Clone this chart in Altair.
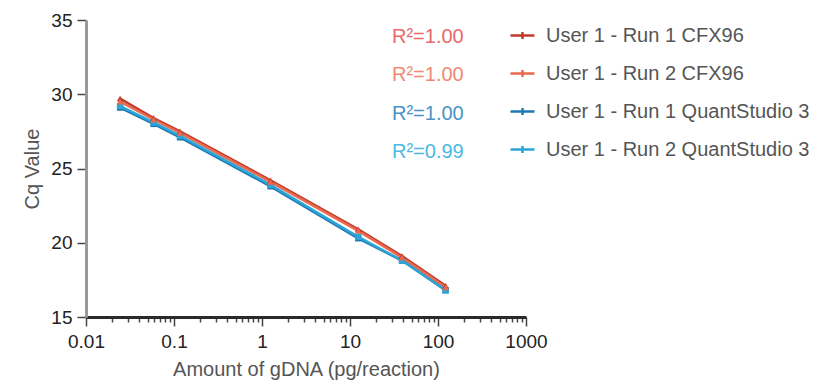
import altair as alt
import pandas as pd

# ---- data ----
amount_pg = [0.0244, 0.0586, 0.117, 1.25, 12.4, 39.0, 122.0]
series_names = [
    "User 1 - Run 1 CFX96",
    "User 1 - Run 2 CFX96",
    "User 1 - Run 1 QuantStudio 3",
    "User 1 - Run 2 QuantStudio 3",
]
cq_run1_cfx96 = [29.7, 28.4, 27.5, 24.2, 20.9, 19.1, 17.1]
cq_run2_cfx96 = [29.5, 28.3, 27.4, 24.1, 20.8, 19.0, 17.0]
cq_run1_qs3 = [29.1, 28.0, 27.1, 23.8, 20.3, 18.8, 16.8]
cq_run2_qs3 = [29.2, 28.1, 27.2, 23.9, 20.4, 18.8, 16.8]
r2_labels = ["R²=1.00", "R²=1.00", "R²=1.00", "R²=0.99"]

# ---- styles ----
line_colors = ["#c23b2a", "#ea6a50", "#1f77b4", "#2ba6d6"]
r2_colors = ["#e86a6a", "#ef8a72", "#4a93c6", "#4cb9e2"]
FONT = "Liberation Sans"

rows = []
for name, vals in zip(series_names, [cq_run1_cfx96, cq_run2_cfx96, cq_run1_qs3, cq_run2_qs3]):
    for a, v in zip(amount_pg, vals):
        rows.append({"amount": a, "cq": v, "series": name,
                     "instrument": "CFX96" if "CFX96" in name else "QS3"})
df = pd.DataFrame(rows)

r2_df = pd.DataFrame({
    "row": list(range(len(r2_labels))),
    "label": r2_labels,
    "color": r2_colors,
})

x_values = [k * 10.0 ** e for e in range(-2, 3) for k in range(1, 10)] + [1000.0]
y_values = [15 + 2.5 * i for i in range(9)]

major_x_test = "abs(log(datum.value)/LN10 - round(log(datum.value)/LN10)) < 0.000001"
major_y_test = "datum.value % 5 == 0"

x_enc = alt.X(
    "amount:Q",
    scale=alt.Scale(type="log", domain=[0.01, 1000], nice=False),
    axis=alt.Axis(
        title="Amount of gDNA (pg/reaction)",
        values=x_values,
        format="~g",
        labelExpr=f"{major_x_test} ? datum.label : ''",
        tickSize={"condition": {"test": major_x_test, "value": 9}, "value": 5},
        grid=False,
        domainColor="#2a2a2a",
        domainWidth=3,
        tickColor="#444",
        tickWidth=1.5,
        labelPadding=6,
        titlePadding=8,
        labelFlush=False,
    ),
)
y_enc = alt.Y(
    "cq:Q",
    scale=alt.Scale(domain=[15, 35], nice=False, zero=False),
    axis=alt.Axis(
        title="Cq Value",
        values=y_values,
        format="~g",
        labelExpr=f"{major_y_test} ? datum.label : ''",
        tickSize={"condition": {"test": major_y_test, "value": 9}, "value": 5},
        grid=False,
        domainColor="#999999",
        domainWidth=3,
        tickColor="#444",
        tickWidth=1.5,
        labelPadding=5,
        titlePadding=8,
    ),
)

color_scale = alt.Scale(domain=series_names, range=line_colors)

lines = alt.Chart(df).mark_line(strokeWidth=2.5).encode(
    x=x_enc,
    y=y_enc,
    color=alt.Color(
        "series:N",
        scale=color_scale,
        sort=series_names,
        legend=alt.Legend(
            title=None,
            orient="none",
            legendX=423,
            legendY=2,
            symbolType="M-1,0H1M0,-0.3V0.3",
            symbolSize=576,
            symbolStrokeWidth=2.5,
            labelFontSize=20,
            labelColor="#555555",
            labelFont=FONT,
            labelOffset=10,
            rowPadding=14,
            labelLimit=400,
        ),
    ),
    detail="series:N",
)

tri_points = alt.Chart(df).transform_filter(alt.datum.instrument == "CFX96").mark_point(
    filled=True, size=45, opacity=1, shape="triangle-up"
).encode(
    x="amount:Q",
    y="cq:Q",
    color=alt.Color("series:N", scale=color_scale, sort=series_names),
)

sq_points = alt.Chart(df).transform_filter(alt.datum.instrument == "QS3").mark_point(
    filled=True, size=40, opacity=1, shape="square"
).encode(
    x="amount:Q",
    y="cq:Q",
    color=alt.Color("series:N", scale=color_scale, sort=series_names),
)

data_layer = alt.layer(lines, sq_points, tri_points)

r2_text = alt.Chart(r2_df).mark_text(
    align="left", baseline="middle", fontSize=20, font=FONT
).encode(
    x=alt.value(306),
    y=alt.Y("row:O", scale=alt.Scale(type="point", range=[17, 132], padding=0), axis=None),
    text="label:N",
    color=alt.Color("color:N", scale=None),
)

chart = (
    alt.layer(data_layer, r2_text)
    .resolve_scale(y="independent")
    .properties(
        width=440,
        height=297,
        autosize="none",
        padding={"left": 78, "top": 12, "right": 286, "bottom": 70},
    )
    .configure_view(stroke=None)
    .configure_axis(
        labelFont=FONT,
        titleFont=FONT,
        labelFontSize=19,
        titleFontSize=20,
        labelColor="#222222",
        titleColor="#555555",
        titleFontWeight="normal",
    )
)

chart.save("out.html", embed_options={"renderer": "svg", "actions": False})
